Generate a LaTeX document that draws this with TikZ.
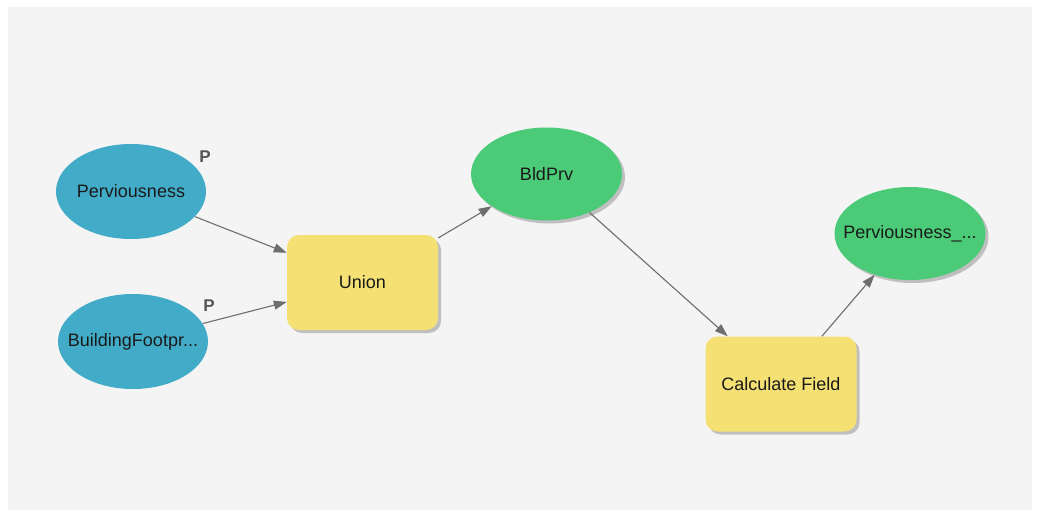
\documentclass[tikz,border=0pt]{standalone}
\usepackage{fontspec}
\setmainfont{Liberation Sans}
\usetikzlibrary{shapes.geometric,arrows.meta,shadows}
\definecolor{canvas}{HTML}{F4F4F4}
\definecolor{inputblue}{HTML}{42ACC8}
\definecolor{outgreen}{HTML}{4BCB78}
\definecolor{toolyellow}{HTML}{F5E073}
\definecolor{linkgray}{HTML}{6E6E6E}
\definecolor{labelgray}{HTML}{555555}
\definecolor{textdark}{HTML}{1A1A1A}
\newcommand{\fixedtext}[1]{\makebox[0pt]{#1}}
\tikzset{
  x=1pt, y=-1pt,
  every node/.style={font=\fontsize{18}{21}\selectfont, text=textdark},
  indata/.style={ellipse, fill=inputblue, minimum width=150pt, minimum height=95pt, inner sep=0pt},
  outdata/.style={ellipse, fill=outgreen, minimum width=151pt, minimum height=93pt, inner sep=0pt,
    drop shadow={shadow xshift=3pt, shadow yshift=-3pt, opacity=0.45, fill=gray}},
  tool/.style={rectangle, rounded corners=12pt, fill=toolyellow, minimum width=151pt, minimum height=95pt,
    drop shadow={shadow xshift=3pt, shadow yshift=-3pt, opacity=0.45, fill=gray}},
  link/.style={draw=linkgray, line width=1.1pt, -{Triangle[length=13pt,width=9pt]}},
  param/.style={text=labelgray, font=\fontsize{17}{20}\selectfont\bfseries}
}
\begin{document}
\begin{tikzpicture}
  % canvas
  \useasboundingbox (0,0) rectangle (1039,516);
  \fill[white] (0,0) rectangle (1039,516);
  \fill[canvas] (8,7) rectangle (1032,510);

  % inputs
  \node[indata] (perv) at (131,191.5) {\fixedtext{Perviousness}};
  \node[indata] (bldg) at (133,341.5) {\fixedtext{BuildingFootpr...}};
  \node[param] (pa) at (205,157) {P};
  \node[param] (pb) at (209,306) {P};

  % tools
  \node[tool] (union) at (362.5,282.5) {Union};
  \node[tool] (calc) at (781,384) {Calculate Field};

  % outputs
  \node[outdata] (bldprv) at (546.5,174) {\fixedtext{BldPrv}};
  \node[outdata] (pervout) at (910,233.5) {\fixedtext{Perviousness\_...}};

  % connectors
  \draw[link] (perv) -- (union);
  \draw[link] (bldg) -- (union);
  \draw[link] (union) -- (bldprv);
  \draw[link] (bldprv) -- (calc);
  \draw[link] (calc) -- (pervout);
\end{tikzpicture}
\end{document}
